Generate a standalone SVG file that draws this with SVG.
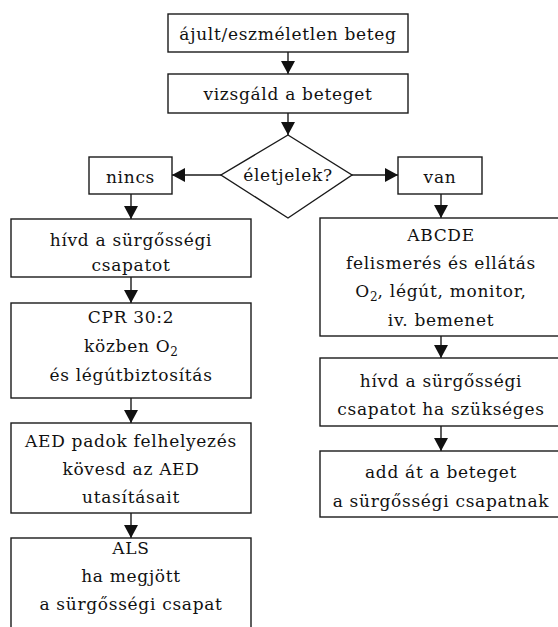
<svg xmlns="http://www.w3.org/2000/svg" width="558" height="627" viewBox="0 0 558 627">
<style>
  .box { fill: #fff; stroke: #1a1a1a; stroke-width: 1.4; }
  .t { font-family: "DejaVu Serif", "Liberation Serif", serif; font-size: 17px; letter-spacing: 0.7px; fill: #111; text-anchor: middle; }
  .sub { font-size: 12px; letter-spacing: 0; }
  .c { stroke: #1a1a1a; stroke-width: 1.4; fill: none; marker-end: url(#ah); }
</style>
<defs>
  <marker id="ah" markerUnits="userSpaceOnUse" markerWidth="14" markerHeight="14" refX="13" refY="7" orient="auto">
    <path d="M0,0 L13,7 L0,14 z" fill="#111"/>
  </marker>
</defs>
<rect width="558" height="627" fill="#fff"/>

<g id="connectors">
  <line class="c" x1="288" y1="52" x2="288" y2="74"/>
  <line class="c" x1="288" y1="113" x2="288" y2="135"/>
  <line class="c" x1="221" y1="175" x2="172" y2="175"/>
  <line class="c" x1="352" y1="175" x2="398" y2="175"/>
  <line class="c" x1="131" y1="194" x2="131" y2="219"/>
  <line class="c" x1="441" y1="194" x2="441" y2="218"/>
  <line class="c" x1="131" y1="277" x2="131" y2="303"/>
  <line class="c" x1="131" y1="398" x2="131" y2="423"/>
  <line class="c" x1="131" y1="513" x2="131" y2="538"/>
  <line class="c" x1="441" y1="336" x2="441" y2="358"/>
  <line class="c" x1="441" y1="426" x2="441" y2="451"/>
</g>

<g id="n_start">
  <rect class="box" x="168" y="14" width="240" height="38"/>
  <text class="t" x="288" y="39.5">ájult/eszméletlen beteg</text>
</g>
<g id="n_vizsgald">
  <rect class="box" x="168" y="74" width="240" height="39"/>
  <text class="t" x="288" y="100">vizsgáld a beteget</text>
</g>
<g id="n_eletjelek">
  <polygon class="box" points="288,135 352,175 288,218 221,175"/>
  <text class="t" x="288" y="181">életjelek?</text>
</g>
<g id="n_nincs">
  <rect class="box" x="89" y="157" width="83" height="37"/>
  <text class="t" x="130.5" y="183">nincs</text>
</g>
<g id="n_van">
  <rect class="box" x="398" y="157" width="84" height="37"/>
  <text class="t" x="440" y="183">van</text>
</g>
<g id="n_hivd_left">
  <rect class="box" x="11" y="219" width="240" height="58"/>
  <text class="t" x="131" y="246">hívd a sürgősségi</text>
  <text class="t" x="131" y="271">csapatot</text>
</g>
<g id="n_cpr">
  <rect class="box" x="11" y="303" width="240" height="95"/>
  <text class="t" x="131" y="322.5">CPR 30:2</text>
  <text class="t" x="131" y="351.5">közben O<tspan class="sub" dy="4">2</tspan></text>
  <text class="t" x="131" y="380.5">és légútbiztosítás</text>
</g>
<g id="n_aed">
  <rect class="box" x="11" y="423" width="240" height="90"/>
  <text class="t" x="131" y="446.5">AED padok felhelyezés</text>
  <text class="t" x="131" y="475">kövesd az AED</text>
  <text class="t" x="131" y="503">utasításait</text>
</g>
<g id="n_als">
  <rect class="box" x="11" y="538" width="240" height="110"/>
  <text class="t" x="131" y="554">ALS</text>
  <text class="t" x="131" y="581.5">ha megjött</text>
  <text class="t" x="131" y="609.5">a sürgősségi csapat</text>
</g>
<g id="n_abcde">
  <rect class="box" x="320" y="218" width="243" height="118"/>
  <text class="t" x="441" y="240.5">ABCDE</text>
  <text class="t" x="441" y="269">felismerés és ellátás</text>
  <text class="t" x="441" y="297">O<tspan class="sub" dy="4">2</tspan><tspan dy="-4">, légút, monitor,</tspan></text>
  <text class="t" x="441" y="326">iv. bemenet</text>
</g>
<g id="n_hivd_right">
  <rect class="box" x="320" y="358" width="243" height="68"/>
  <text class="t" x="441" y="386.5">hívd a sürgősségi</text>
  <text class="t" x="441" y="415">csapatot ha szükséges</text>
</g>
<g id="n_addat">
  <rect class="box" x="320" y="451" width="243" height="66"/>
  <text class="t" x="441" y="478">add át a beteget</text>
  <text class="t" x="441" y="506.5">a sürgősségi csapatnak</text>
</g>
</svg>
